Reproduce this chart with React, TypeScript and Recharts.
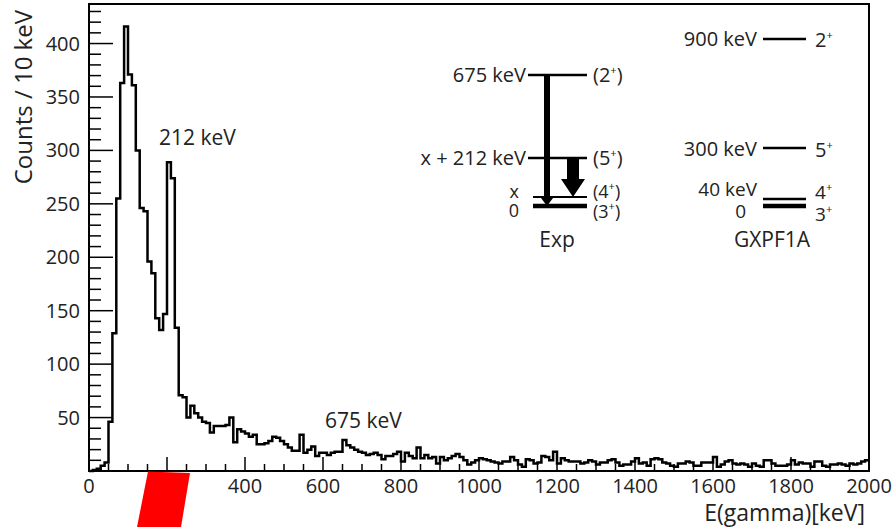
import { LineChart, Line, XAxis, YAxis, ReferenceArea } from 'recharts';

// gamma spectrum, 10 keV bins starting at 0 keV
const binWidth = 10;
const counts = [
  0, 1, 2, 5, 8, 46, 129, 255, 363, 416,
  371, 361, 300, 246, 243, 196, 185, 143, 132, 147,
  289, 274, 134, 71, 69, 50, 61, 54, 50, 46,
  45, 36, 42, 42, 42, 43, 50, 27, 39, 37,
  35, 32, 34, 25, 25, 26, 28, 32, 31, 28,
  25, 22, 19, 19, 34, 17, 20, 23, 14, 17,
  17, 15, 17, 18, 18, 29, 24, 22, 20, 18,
  17, 15, 16, 17, 15, 11, 14, 14, 16, 18,
  9, 17, 14, 12, 22, 12, 15, 12, 13, 7,
  13, 10, 12, 14, 16, 13, 10, 6, 8, 10,
  12, 11, 10, 9, 8, 7, 9, 9, 13, 10,
  6, 4, 11, 10, 7, 8, 14, 13, 10, 18,
  7, 12, 10, 9, 9, 9, 7, 8, 10, 9,
  6, 8, 8, 10, 11, 8, 5, 6, 6, 9,
  12, 7, 8, 5, 11, 12, 11, 8, 7, 5,
  4, 7, 7, 9, 8, 5, 5, 8, 8, 8,
  13, 4, 6, 9, 10, 7, 6, 7, 6, 4,
  7, 5, 4, 10, 10, 7, 5, 5, 5, 6,
  10, 6, 8, 7, 7, 4, 9, 9, 5, 4,
  6, 6, 7, 6, 5, 7, 6, 7, 9, 10,
];

const xMax = 2000;
const yMax = 437;
const xLabels = [0, 200, 400, 600, 800, 1000, 1200, 1400, 1600, 1800, 2000];
const yLabels = [50, 100, 150, 200, 250, 300, 350, 400];
const xTicks = Array.from({ length: xMax / 50 + 1 }, (_, i) => i * 50);
const yTicks = Array.from({ length: 44 }, (_, i) => i * 10);

// level schemes (drawing rows are schematic, not to scale)
const expLevels = [
  { name: '675 keV', spin: '2', y: 75, w: 2.5, x1: 528, nameY: 82, spinY: 82, nameX: 526, fs: 20 },
  { name: 'x + 212 keV', spin: '5', y: 158, w: 2.5, x1: 528, nameY: 165, spinY: 165, nameX: 526, fs: 20 },
  { name: 'x', spin: '4', y: 197, w: 2, x1: 533, nameY: 198, spinY: 198, nameX: 519, fs: 18 },
  { name: '0', spin: '3', y: 206, w: 4.5, x1: 533, nameY: 217, spinY: 218, nameX: 519, fs: 18 },
];
const shellLevels = [
  { name: '900 keV', spin: '2', y: 39, w: 2.5, nameY: 46, spinY: 47, nameX: 757, fs: 20 },
  { name: '300 keV', spin: '5', y: 148, w: 2.5, nameY: 156, spinY: 157, nameX: 757, fs: 20 },
  { name: '40 keV', spin: '4', y: 199, w: 2.5, nameY: 196, spinY: 199, nameX: 757, fs: 19 },
  { name: '0', spin: '3', y: 206, w: 4.5, nameY: 218, spinY: 221, nameX: 746, fs: 19 },
];

const data = counts.map((c, i) => ({ e: i * binWidth, c }));
data.push({ e: xMax, c: counts[counts.length - 1] });

const XTick = (props: any) => {
  const { x, y, payload } = props;
  const v = payload.value;
  const major = xLabels.includes(v);
  return (
    <g>
      <line x1={x} x2={x} y1={y} y2={y - (major ? 14 : 7)} stroke="#000" strokeWidth={1.5} />
      {major && (
        <text x={x} y={y + 22} textAnchor="middle" fontSize={20} fill="#222">
          {v}
        </text>
      )}
    </g>
  );
};

const YTick = (props: any) => {
  const { x, y, payload } = props;
  const v = payload.value;
  const major = v % 50 === 0;
  return (
    <g>
      <line x1={x} x2={x + (major ? 24 : 12)} y1={y} y2={y} stroke="#000" strokeWidth={1.5} />
      {yLabels.includes(v) && (
        <text x={x - 9} y={y + 7} textAnchor="end" fontSize={20} fill="#222">
          {v}
        </text>
      )}
    </g>
  );
};

const Spin = ({ x, y, j, paren, fs }: { x: number; y: number; j: string; paren: boolean; fs: number }) => (
  <text x={x} y={y} fontSize={fs} fill="#222">
    {paren ? '(' : ''}
    {j}
    <tspan dy={-8} fontSize={11}>+</tspan>
    <tspan dy={8}>{paren ? ')' : ''}</tspan>
  </text>
);

export default function App() {
  return (
    <div
      style={{
        position: 'absolute',
        left: 0,
        top: 0,
        width: 893,
        height: 527,
        background: '#fff',
        fontFamily: '"Open Sans", sans-serif',
      }}
    >
      <LineChart width={893} height={527} data={data} margin={{ top: 4, right: 24, bottom: 26, left: 29 }}>
        <XAxis
          dataKey="e"
          type="number"
          domain={[0, xMax]}
          ticks={xTicks}
          interval={0}
          tickSize={0}
          tickMargin={0}
          axisLine={false}
          tick={<XTick />}
          height={30}
        />
        <YAxis
          type="number"
          domain={[0, yMax]}
          ticks={yTicks}
          interval={0}
          tickSize={0}
          tickMargin={0}
          axisLine={false}
          tick={<YTick />}
          width={60}
        />
        <ReferenceArea x1={0} x2={xMax} y1={0} y2={yMax} fill="none" stroke="#000" strokeWidth={2} />
        <Line
          dataKey="c"
          type="stepAfter"
          stroke="#000"
          strokeWidth={2.5}
          dot={false}
          isAnimationActive={false}
        />
      </LineChart>
      <svg
        width={893}
        height={527}
        style={{ position: 'absolute', left: 0, top: 0, pointerEvents: 'none' }}
      >
        <text x={31.5} y={10} transform="rotate(-90 31.5 10)" textAnchor="end" fontSize={24} fill="#222">
          Counts / 10 keV
        </text>
        <text x={865} y={521} textAnchor="end" fontSize={23} fill="#222">
          E(gamma)[keV]
        </text>
        <text x={159} y={145} fontSize={21} fill="#222">212 keV</text>
        <text x={325} y={428} fontSize={21} fill="#222">675 keV</text>

        {expLevels.map((l) => (
          <g key={l.name}>
            <line x1={l.x1} x2={587} y1={l.y} y2={l.y} stroke="#000" strokeWidth={l.w} />
            <text x={l.nameX} y={l.nameY} textAnchor="end" fontSize={l.fs} fill="#222">{l.name}</text>
            <Spin x={593} y={l.spinY} j={l.spin} paren fs={l.fs} />
          </g>
        ))}
        <rect x={544} y={75} width={6} height={124} fill="#000" />
        <polygon points="541,198 553,198 547,206" fill="#000" />
        <polygon points="567,158 579,158 579,179 585,179 573,197 561,179 567,179" fill="#000" />
        <text x={557} y={247} textAnchor="middle" fontSize={21} fill="#222">Exp</text>

        {shellLevels.map((l) => (
          <g key={l.name}>
            <line x1={763} x2={806} y1={l.y} y2={l.y} stroke="#000" strokeWidth={l.w} />
            <text x={l.nameX} y={l.nameY} textAnchor="end" fontSize={l.fs} fill="#222">{l.name}</text>
            <Spin x={815} y={l.spinY} j={l.spin} paren={false} fs={l.fs} />
          </g>
        ))}
        <text x={772} y={247} textAnchor="middle" fontSize={21} fill="#222">GXPF1A</text>

        <polygon points="148,471.5 190,473 181,527 137,527" fill="#ff0000" />
      </svg>
    </div>
  );
}
